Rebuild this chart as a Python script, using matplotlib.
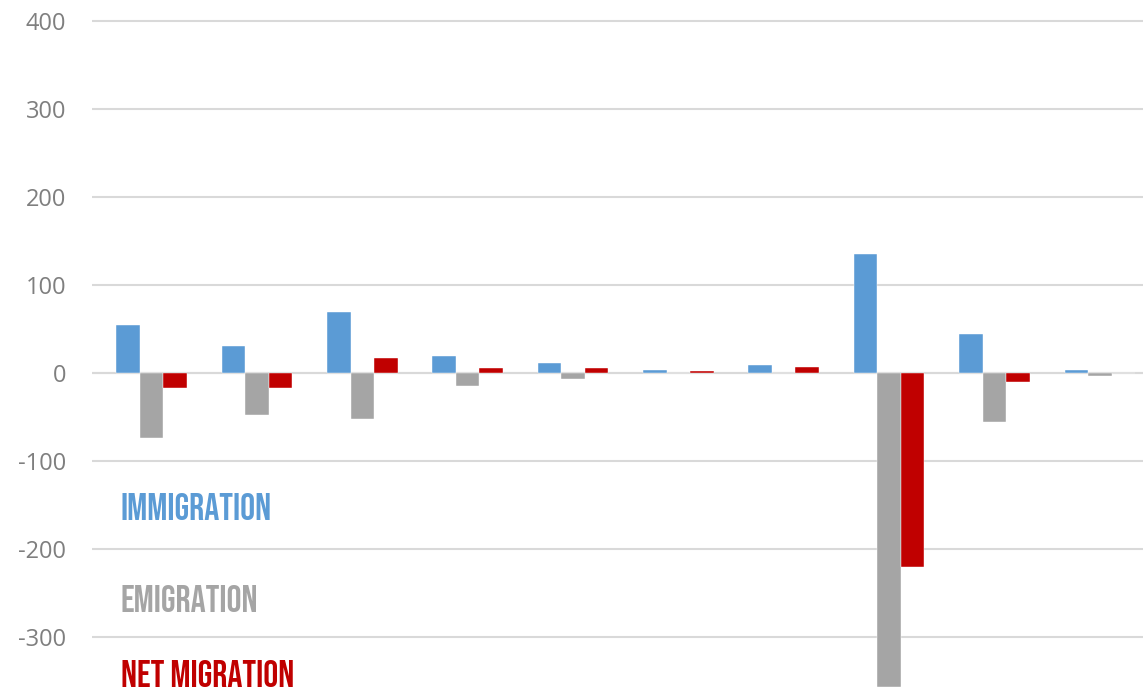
import numpy as np
import matplotlib.pyplot as plt

# valeurs (10 groupes, sans etiquettes en x)
groupes = np.arange(10)
immigration = [55, 31, 70, 20, 12, 4, 9, 135, 44, 4]
emigration = [-74, -47, -52, -15, -7, 0, 0, -356, -55, -3]
net_migration = [-17, -17, 17, 6, 6, 2.5, 7.5, -220, -10, 0]
yticks = [-300, -200, -100, 0, 100, 200, 300, 400]

bleu = "#5B9BD5"
gris = "#A5A5A5"
rouge = "#C00000"

fig = plt.figure(figsize=(11.43, 6.91), dpi=100)
ax = fig.add_axes([92/1143, 0, 1 - 92/1143, 1])

w = 0.223
ax.bar(groupes - w, immigration, w, color=bleu, edgecolor="white", linewidth=0.3, zorder=3)
ax.bar(groupes, emigration, w, color=gris, edgecolor="white", linewidth=0.3, zorder=3)
ax.bar(groupes + w, net_migration, w, color=rouge, edgecolor="white", linewidth=0.3, zorder=3)

ax.set_xlim(-0.565, 9.41)
ax.set_ylim(-361, 424)
ax.set_yticks(yticks)
ax.set_yticklabels([str(v) for v in yticks], fontsize=17, color="#7F7F7F",
                   family=["Open Sans", "DejaVu Sans"])
ax.tick_params(axis="y", length=0, pad=18.7)
ax.set_xticks([])
ax.grid(axis="y", color="#D9D9D9", linewidth=1.5, zorder=0)
ax.axhline(0, color="#D9D9D9", linewidth=1.5, zorder=2)
for s in ax.spines.values():
    s.set_visible(False)

police = ["Bebas Neue", "DejaVu Sans"]
ax.text(-0.29, -151, "IMMIGRATION", color=bleu, fontsize=27,
        family=police, va="center", ha="left")
ax.text(-0.29, -256, "EMIGRATION", color=gris, fontsize=27,
        family=police, va="center", ha="left")
ax.text(-0.29, -341, "NET MIGRATION", color=rouge, fontsize=27,
        family=police, va="center", ha="left")

fig.savefig("out.png", dpi=100)
